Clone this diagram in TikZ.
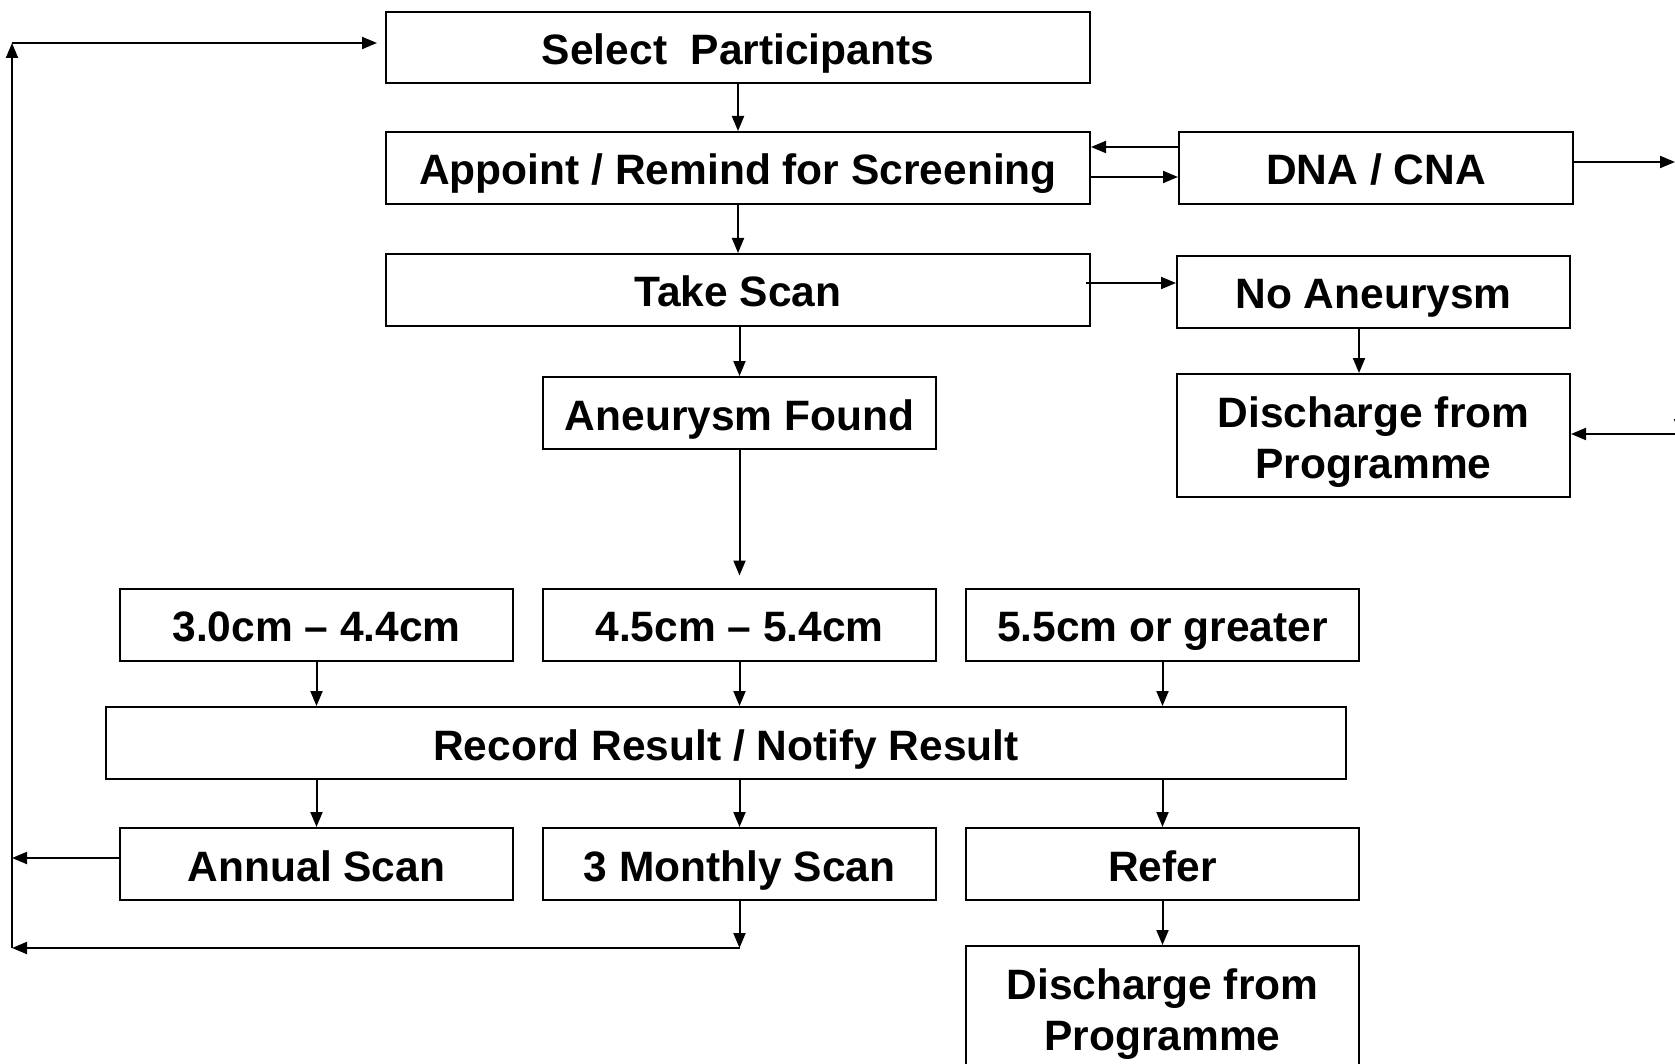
\documentclass[tikz,border=0pt]{standalone}
\usepackage{fontspec}
\setmainfont{Liberation Sans}
\usetikzlibrary{arrows.meta,calc}
\begin{document}
\begin{tikzpicture}[x=1pt,y=-1pt,
 box/.style={draw,line width=2pt,minimum width=393pt,minimum height=72pt,inner sep=0pt,
   text height=34pt,text depth=0pt,
   font=\fontsize{42.5}{51}\selectfont\bfseries,align=center},
 twoline/.style={minimum height=123pt,text height=86pt,text depth=0pt},
 arr/.style={line width=2pt,-{Triangle[length=15pt,width=12pt]}}]
\useasboundingbox (0,0) rectangle (1675,1064);
\clip (0,0) rectangle (1675,1064);
\node[box,minimum width=704pt,minimum height=71pt] (sel) at (738,47.5) {Select\ \ Participants};
\node[box,minimum width=704pt] (app) at (738,168) {Appoint / Remind for Screening};
\node[box,minimum width=394pt] (dna) at (1376,168) {DNA / CNA};
\node[box,minimum width=704pt] (take) at (738,290) {Take Scan};
\node[box] (noan) at (1373.5,292) {No Aneurysm};
\node[box,twoline] (dis1) at (1373.5,435.5) {Discharge from\\Programme};
\node[box] (found) at (739.5,413) {Aneurysm Found};
\node[box] (r1) at (316.5,624.5) {3.0cm – 4.4cm};
\node[box] (r2) at (739.5,624.5) {4.5cm – 5.4cm};
\node[box] (r3) at (1162.5,624.5) {5.5cm or greater};
\node[box,minimum width=1240pt] (rec) at (726,743) {Record Result / Notify Result};
\node[box] (an) at (316.5,864) {Annual Scan};
\node[box] (mon) at (739.5,864) {3 Monthly Scan};
\node[box] (ref) at (1162.5,864) {Refer};
\node[box,twoline] (dis2) at (1162.5,1007.5) {Discharge from\\Programme};
% main column
\draw[arr] (sel.south) -- (app.north);
\draw[arr] (app.south) -- (take.north);
\draw[arr] (take.south -| found.north) -- (found.north);
\draw[arr] (found.south) -- ($(r2.north)+(0,-12)$);
\draw[arr] (r1.south) -- (r1.south |- rec.north);
\draw[arr] (r2.south) -- (r2.south |- rec.north);
\draw[arr] (r3.south) -- (r3.south |- rec.north);
\draw[arr] (rec.south -| an.north) -- (an.north);
\draw[arr] (rec.south -| mon.north) -- (mon.north);
\draw[arr] (rec.south -| ref.north) -- (ref.north);
\draw[arr] (ref.south) -- (dis2.north);
% right side
\coordinate (na) at (1359,0);
\draw[arr] (noan.south -| na) -- (dis1.north -| na);
\draw[arr] ([yshift=21pt]dna.west) -- ([yshift=21pt]app.east);
\draw[arr] ([yshift=-9pt]app.east) -- ([yshift=-9pt]dna.west);
\coordinate (dnaout) at (1675,162);
\draw[arr] ([yshift=6pt]dna.east) -- (dnaout);
\coordinate (ts) at (1086,283);
\draw[arr] (ts) -- (ts -| noan.west);
\coordinate (rv1) at (1680,250);
\coordinate (rv2) at (1680,434);
\draw[arr] (rv1) -- (rv2);
\draw[arr] (rv2) -- (rv2 -| dis1.east);
% left loop
\coordinate (lb) at (12,948);
\coordinate (lt) at (12,43);
\coordinate (la) at (12,858);
\draw[arr] (mon.south) -- (mon.south |- lb);
\draw[arr] (mon.south |- lb) -- (lb);
\draw[arr] (lb) -- (lt);
\draw[arr] (lt) -- ([xshift=-8pt]sel.west |- lt);
\draw[arr] ([yshift=6pt]an.west) -- (la);
\end{tikzpicture}
\end{document}
